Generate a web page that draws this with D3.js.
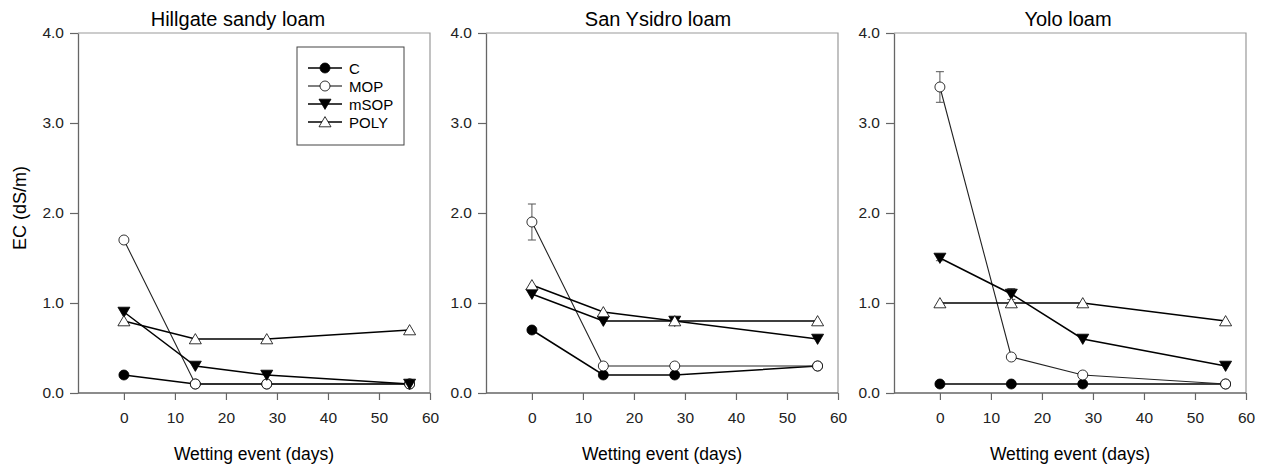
<!DOCTYPE html>
<html><head><meta charset="utf-8">
<script src="https://cdn.jsdelivr.net/npm/d3@7"></script>
<style>body{margin:0;background:#fff;} text{font-family:Arial,"Liberation Sans",sans-serif;}</style>
</head><body>
<svg id="chart" width="1268" height="470"></svg>
<script>
const days = [0, 14, 28, 56];
const seriesNames = ["C", "MOP", "mSOP", "POLY"];
const panelTitles = ["Hillgate sandy loam", "San Ysidro loam", "Yolo loam"];
const xTicks = [0, 10, 20, 30, 40, 50, 60];
const yTicks = [0, 1, 2, 3, 4];
// values per panel, per series
const hillgateC    = [0.2, 0.1, 0.1, 0.1];
const hillgateMOP  = [1.7, 0.1, 0.1, 0.1];
const hillgateMSOP = [0.9, 0.3, 0.2, 0.1];
const hillgatePOLY = [0.8, 0.6, 0.6, 0.7];
const sanC    = [0.7, 0.2, 0.2, 0.3];
const sanMOP  = [1.9, 0.3, 0.3, 0.3];
const sanMSOP = [1.1, 0.8, 0.8, 0.6];
const sanPOLY = [1.2, 0.9, 0.8, 0.8];
const yoloC    = [0.1, 0.1, 0.1, 0.1];
const yoloMOP  = [3.4, 0.4, 0.2, 0.1];
const yoloMSOP = [1.5, 1.1, 0.6, 0.3];
const yoloPOLY = [1.0, 1.0, 1.0, 0.8];
// standard errors (0 = not visible)
const sanMOPErr   = [0.2, 0, 0, 0];
const yoloMOPErr  = [0.17, 0, 0, 0];
const yoloMSOPErr = [0.03, 0.06, 0, 0];
const zeros = [0, 0, 0, 0];

const panels = [
  {title: panelTitles[0], vals: [hillgateC, hillgateMOP, hillgateMSOP, hillgatePOLY], errs: [zeros, zeros, zeros, zeros], left: 78, titleShift: -16, legend: true},
  {title: panelTitles[1], vals: [sanC, sanMOP, sanMSOP, sanPOLY], errs: [zeros, sanMOPErr, zeros, zeros], left: 486, titleShift: -4},
  {title: panelTitles[2], vals: [yoloC, yoloMOP, yoloMSOP, yoloPOLY], errs: [zeros, yoloMOPErr, yoloMSOPErr, zeros], left: 894, titleShift: -2}
];

const svg = d3.select("#chart");
const W = 352, plotTop = 33, H = 360;
const styles = [
  {shape: "circle", fill: "#000", lw: 1.5},
  {shape: "circle", fill: "#fff", lw: 1.1},
  {shape: "down", fill: "#000", lw: 1.5},
  {shape: "up", fill: "#fff", lw: 1.5}
];
function marker(g, st, x, y) {
  if (st.shape === "circle") {
    g.append("circle").attr("cx", x).attr("cy", y).attr("r", 5)
      .attr("fill", st.fill).attr("stroke", "#000").attr("stroke-width", 0.8);
  } else {
    const s = 6;
    const pts = st.shape === "down"
      ? [[x - s, y - s * 0.8], [x + s, y - s * 0.8], [x, y + s * 0.9]]
      : [[x - s, y + s * 0.8], [x + s, y + s * 0.8], [x, y - s * 0.9]];
    g.append("polygon").attr("points", pts.map(p => p.join(",")).join(" "))
      .attr("fill", st.fill).attr("stroke", "#000").attr("stroke-width", 0.8);
  }
}

panels.forEach((p, pi) => {
  const x = d3.scaleLinear().domain([-9, 60]).range([p.left, p.left + W]);
  const y = d3.scaleLinear().domain([0, 4]).range([plotTop + H, plotTop]);
  const g = svg.append("g");
  g.append("path").attr("d", `M${p.left},${plotTop}H${p.left + W}V${plotTop + H}`)
    .attr("fill", "none").attr("stroke", "#999").attr("stroke-width", 1.2);
  const ax = g.append("g").attr("transform", `translate(0,${plotTop + H})`)
    .call(d3.axisBottom(x).tickValues(xTicks).tickSize(7).tickSizeOuter(0).tickPadding(12));
  const ay = g.append("g").attr("transform", `translate(${p.left},0)`)
    .call(d3.axisLeft(y).tickValues(yTicks).tickSize(8).tickSizeOuter(0).tickPadding(6).tickFormat(d3.format(".1f")));
  [ax, ay].forEach(a => {
    a.select(".domain").attr("stroke", "#666").attr("stroke-width", 1.3);
    a.selectAll(".tick line").attr("stroke", "#666").attr("stroke-width", 1.2);
    a.selectAll(".tick text").attr("fill", "#222").style("font-size", "15.5px").style("font-family", "Arial, 'Liberation Sans', sans-serif");
  });
  ax.select(".domain").attr("d", `M${p.left},0H${p.left + W}`);
  g.append("text").attr("x", p.left + W / 2 + p.titleShift).attr("y", 26).attr("text-anchor", "middle")
    .style("font-size", "20px").attr("fill", "#000").text(p.title);
  g.append("text").attr("x", p.left + W / 2).attr("y", 460).attr("text-anchor", "middle")
    .style("font-size", "17.5px").attr("fill", "#000").text("Wetting event (days)");
  p.vals.forEach((vals, si) => {
    const st = styles[si];
    const line = d3.line().x((d, i) => x(days[i])).y(d => y(d));
    g.append("path").datum(vals).attr("d", line).attr("fill", "none")
      .attr("stroke", si === 1 ? "#222" : "#000").attr("stroke-width", st.lw);
  });
  p.vals.forEach((vals, si) => {
    vals.forEach((v, i) => {
      const e = p.errs[si][i];
      if (!e) return;
      const cx = x(days[i]);
      g.append("path").attr("d", `M${cx},${y(v + e)}V${y(v - e)}M${cx - 4},${y(v + e)}H${cx + 4}M${cx - 4},${y(v - e)}H${cx + 4}`)
        .attr("stroke", "#555").attr("stroke-width", 1).attr("fill", "none");
    });
  });
  p.vals.forEach((vals, si) => {
    vals.forEach((v, i) => marker(g, styles[si], x(days[i]), y(v)));
  });
  if (p.legend) {
    const lg = g.append("g");
    lg.append("rect").attr("x", 297).attr("y", 47).attr("width", 107).attr("height", 98)
      .attr("fill", "#fff").attr("stroke", "#444").attr("stroke-width", 1);
    seriesNames.forEach((n, si) => {
      const ly = 68 + si * 18;
      lg.append("line").attr("x1", 308).attr("x2", 342).attr("y1", ly).attr("y2", ly)
        .attr("stroke", "#000").attr("stroke-width", styles[si].lw);
      marker(lg, styles[si], 325, ly);
      lg.append("text").attr("x", 349).attr("y", ly + 5.5).style("font-size", "15px").attr("fill", "#000").text(n);
    });
  }
});
svg.append("text").attr("transform", "translate(26,208) rotate(-90)").attr("text-anchor", "middle")
  .style("font-size", "18px").attr("fill", "#000").text("EC (dS/m)");
</script>
</body></html>
